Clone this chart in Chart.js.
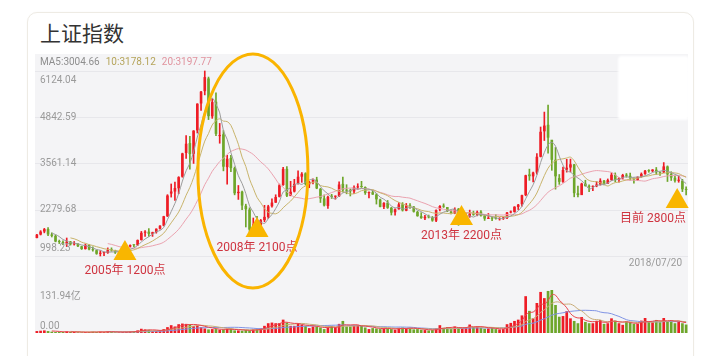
<!DOCTYPE html>
<html><head><meta charset="utf-8">
<script src="https://cdn.jsdelivr.net/npm/chart.js@4/dist/chart.umd.min.js"></script>
<style>
html,body{margin:0;padding:0;background:#fff;width:721px;height:356px;overflow:hidden;}
#card{position:absolute;left:27px;top:12px;width:665px;height:370px;border:1px solid #eeebe4;border-radius:10px;background:#fff;box-shadow:0 0 2px rgba(0,0,0,0.03);}
#title{position:absolute;left:40px;top:22px;font-size:21px;line-height:21px;font-family:'Noto Sans CJK SC',sans-serif;color:#333;white-space:nowrap;}
#cv{position:absolute;left:0;top:0;}
#blot{position:absolute;left:618px;top:56px;width:71px;height:64px;background:#fff;border-radius:4px;filter:blur(1.2px);}
</style></head>
<body>
<div id="card"></div>
<div id="title">上证指数</div>
<canvas id="cv" width="721" height="356"></canvas>
<div id="blot"></div>
<script>
// ---- DATA (monthly, 2004/01 .. 2018/07) ----
const opens = [
1497,1591,1676,1744,1594,1556,1398,1386,1342,1398,1320,1341,
1267,1191,1306,1181,1158,1060,1081,1083,1162,1155,1092,1099,
1163,1259,1300,1298,1441,1642,1673,1611,1657,1752,1838,2100,
2728,2784,2874,3196,3853,4126,3829,4479,5224,5566,5917,4868,
5273,4320,4371,3461,3713,3434,2741,2780,2390,2286,1720,1868,
1849,1992,2080,2376,2477,2638,2965,3413,2657,2783,3002,3196,
3289,2985,3055,3115,2858,2594,2385,2644,2640,2652,2997,2812,
2825,2787,2899,2935,2910,2741,2764,2703,2563,2359,2476,2336,
2212,2293,2431,2253,2398,2368,2221,2102,2043,2101,2072,1978,
2289,2385,2354,2230,2178,2307,1975,1994,2093,2184,2139,2226,
2112,2027,2052,2030,2018,2037,2049,2204,2219,2357,2433,2684,
3259,3205,3310,3747,4453,4634,4220,3665,3157,3052,3392,3448,
3536,2736,2685,3004,2937,2914,2932,2977,3085,3002,3105,3247,
3105,3157,3237,3221,3154,3105,3193,3271,3361,3350,3390,3310,
3314,3479,3269,3166,3083,3084,2831];
const highs = [
1600,1701,1764,1783,1640,1580,1440,1420,1497,1405,1400,1345,
1270,1329,1313,1250,1166,1146,1108,1223,1224,1160,1113,1163,
1260,1307,1306,1445,1680,1700,1757,1660,1753,1839,2100,2698,
2994,3049,3197,3848,4335,4311,4474,5219,5562,6124.04,5956,5354,
5522,4672,4472,3786,3786,3465,2952,2800,2434,2334,2051,2100,
2012,2402,2404,2579,2695,2991,3454,3478,3068,3123,3361,3311,
3306,3068,3136,3181,2872,2690,2657,2707,2667,3054,3186,2974,
2855,2942,3000,3067,2915,2777,2826,2729,2576,2476,2536,2344,
2302,2478,2478,2454,2453,2370,2241,2198,2127,2133,2094,2276,
2398,2444,2343,2265,2334,2317,2092,2178,2270,2242,2246,2260,
2138,2177,2079,2146,2061,2075,2206,2248,2366,2430,2683,3239,
3406,3323,3835,4572,4986,5178,4184,4006,3256,3459,3678,3684,
3539,2933,3018,3097,2968,2942,3059,3140,3096,3133,3301,3301,
3174,3264,3284,3295,3164,3193,3301,3375,3391,3394,3451,3317,
3587,3495,3333,3220,3219,3123,2915];
const lows = [
1496,1580,1640,1560,1525,1390,1343,1311,1259,1300,1300,1259,
1178,1187,1165,1135,1044,998.23,1004,1070,1130,1067,1074,1090,
1160,1245,1258,1290,1436,1540,1541,1541,1630,1745,1831,2090,
2630,2541,2723,3180,3705,3404,3563,4406,5032,5462,4778,4812,
4330,4123,3357,2990,3333,2693,2566,2284,1802,1664,1678,1814,
1845,1945,2038,2353,2481,2632,2953,2639,2712,2770,2990,3039,
2963,2890,2992,2861,2481,2382,2319,2592,2573,2648,2774,2721,
2661,2723,2849,2897,2705,2610,2701,2437,2356,2307,2316,2134,
2132,2294,2242,2249,2318,2213,2098,2040,2003,2051,1959,1949,
2245,2342,2225,2161,2168,1849,1951,1986,2069,2125,2111,2101,
1984,2032,1974,2017,1991,2010,2033,2191,2211,2285,2380,2666,
3095,3050,3263,3742,4198,3847,3373,2850,2983,3039,3322,3327,
2638,2638,2734,2931,2781,2807,2916,2962,2969,3008,3093,3056,
3044,3127,3181,3097,3017,3091,3180,3260,3318,3332,3259,3234,
3307,3062,3091,3041,3041,2782,2691];
const closes = [
1590,1675,1742,1596,1556,1399,1386,1342,1397,1321,1341,1267,
1192,1306,1181,1159,1060,1081,1083,1162,1156,1093,1099,1161,
1258,1299,1298,1440,1641,1672,1612,1658,1753,1837,2099,2675,
2786,2881,3183,3841,4109,3821,4471,5218,5552,5955,4872,5262,
4383,4349,3473,3693,3433,2736,2776,2397,2294,1729,1871,1821,
1991,2083,2373,2478,2633,2959,3412,2668,2779,2996,3195,3277,
2989,3051,3109,2871,2592,2398,2638,2639,2656,2979,2820,2808,
2791,2905,2928,2911,2743,2762,2701,2568,2359,2469,2333,2199,
2292,2429,2263,2397,2373,2225,2103,2048,2086,2069,1980,2269,
2385,2366,2237,2178,2301,1979,1994,2098,2175,2141,2220,2116,
2033,2056,2033,2026,2039,2048,2202,2217,2364,2420,2683,3235,
3210,3310,3748,4441,4612,4277,3664,3206,3053,3383,3445,3539,
2738,2688,3004,2938,2917,2930,2979,3085,3005,3100,3250,3104,
3159,3242,3223,3155,3117,3192,3273,3361,3349,3393,3317,3307,
3481,3259,3169,3082,3095,2847,2829];
// volume, 亿
const volumes = [
6,7,8,6,4,3,3,3,5,3,3,2,
2,3,3,4,3,4,3,5,4,2,2,3,
4,5,5,8,13,11,10,6,6,7,12,18,
24,20,27,29,28,26,21,24,18,14,11,12,
12,10,11,13,12,8,8,7,9,8,11,12,
14,22,30,32,30,30,41,32,22,22,30,25,
22,15,20,20,17,12,17,22,18,28,37,20,
20,22,25,22,17,12,15,14,12,14,14,12,
10,16,17,15,16,11,12,10,9,8,9,15,
24,16,18,12,20,17,15,18,26,18,20,16,
13,14,15,12,11,12,27,31,37,41,54,113,
68,45,92,126,107,129,131.94,86,50,52,67,45,
37,30,49,34,30,30,37,40,28,30,45,38,
30,25,35,33,28,28,38,46,35,33,40,33,
46,35,38,30,35,30,26];
const priceTicks = [6124.04, 4842.59, 3561.14, 2279.68, 998.23];
const priceTickLabels = ['6124.04','4842.59','3561.14','2279.68','998.23'];
const volTicks = [131.94, 0];
const volTickLabels = ['131.94亿', '0.00'];
const legendTexts = ['MA5:3004.66', '10:3178.12', '20:3197.77'];
const dateLabel = '2018/07/20';
const markerIdx = [23.6, 59, 113.8, 171.6];
const markerVal = [887, 1525, 1857, 2328];
const markerText = ['2005年 1200点', '2008年 2100点', '2013年 2200点', '目前 2800点'];
const circleIdx = 57.9, circleVal = 3353;

// categories
const months = [];
for (let y = 2004; y <= 2018; y++) for (let m = 1; m <= 12; m++) {
  if (y === 2018 && m > 7) break;
  months.push(y + '/' + String(m).padStart(2, '0'));
}

// ---- styling ----
const RED = '#ee1c25', GREEN = '#6ea62a';
const MA_COL = ['#9c9c9c', '#c9b46c', '#eba3b0'];
const VMA_COL = ['#e8464c', '#c8ad78', '#8094e4'];
const LEG_COL = ['#8e8e8e', '#b5a45a', '#e0939e'];
const PLOT = {left: 35, top: 54, right: 688, bottom: 333};
const PRICE_TOP_PX = 71, PRICE_BOT_PX = 256, VOL_TOP_PX = 290;

function ma(arr, n) {
  return arr.map((v, i) => i < n - 1 ? null : arr.slice(i - n + 1, i + 1).reduce((a, b) => a + b, 0) / n);
}
const up = closes.map((c, i) => c >= opens[i]);
const colorOf = ctx => up[ctx.dataIndex] ? RED : GREEN;

// scale ranges so that ticks land on the reference gridlines
const H = PLOT.bottom - PLOT.top;
const pMax = priceTicks[0], pMin = priceTicks[priceTicks.length - 1];
const perPx = (pMax - pMin) / (PRICE_BOT_PX - PRICE_TOP_PX);
const yMax = pMax + (PRICE_TOP_PX - PLOT.top) * perPx;
const yMin = pMin - (PLOT.bottom - PRICE_BOT_PX) * perPx;
const vMax = volTicks[0] * H / (PLOT.bottom - VOL_TOP_PX);

const FONT = "Roboto, 'Noto Sans CJK SC', sans-serif";

const deco = {
  id: 'deco',
  beforeDatasetsDraw(chart) {
    const {ctx, chartArea: a, scales: {y}} = chart;
    ctx.save();
    ctx.fillStyle = '#f4f4f6';
    ctx.fillRect(a.left, a.top, a.width, a.height);
    ctx.strokeStyle = '#e7e7eb';
    ctx.lineWidth = 1;
    priceTicks.forEach(v => {
      const py = Math.round(y.getPixelForValue(v)) + 0.5;
      ctx.beginPath(); ctx.moveTo(a.left, py); ctx.lineTo(a.right, py); ctx.stroke();
    });
    ctx.restore();
  },
  afterDatasetsDraw(chart) {
    const {ctx, chartArea: a, scales: {x, y, yv}} = chart;
    ctx.save();
    // legend
    ctx.font = '10px ' + FONT;
    ctx.textBaseline = 'middle';
    ctx.textAlign = 'left';
    let lx = a.left + 5;
    legendTexts.forEach((t, i) => {
      ctx.fillStyle = LEG_COL[i];
      ctx.fillText(t, lx, a.top + 8);
      lx += ctx.measureText(t).width + 6;
    });
    // price tick labels
    ctx.fillStyle = '#9a9a9a';
    priceTicks.forEach((v, i) => {
      const py = y.getPixelForValue(v);
      if (i === 0) { ctx.textBaseline = 'top'; ctx.fillText(priceTickLabels[i], a.left + 5, py + 4); }
      else if (i === priceTicks.length - 1) { ctx.textBaseline = 'bottom'; ctx.fillText(priceTickLabels[i], a.left + 5, py - 3); }
      else { ctx.textBaseline = 'middle'; ctx.fillText(priceTickLabels[i], a.left + 5, py); }
    });
    // volume tick labels
    ctx.textBaseline = 'top';
    ctx.fillText(volTickLabels[0], a.left + 5, yv.getPixelForValue(volTicks[0]) + 1);
    ctx.textBaseline = 'bottom';
    ctx.fillText(volTickLabels[1], a.left + 5, yv.getPixelForValue(volTicks[1]) - 2);
    // date
    ctx.textAlign = 'right';
    ctx.textBaseline = 'top';
    ctx.fillText(dateLabel, a.right - 6, y.getPixelForValue(pMin) + 2);
    // markers
    ctx.font = '12px ' + FONT;
    markerIdx.forEach((idx, i) => {
      const cx = x.getPixelForValue(idx), by = y.getPixelForValue(markerVal[i]);
      ctx.fillStyle = '#f9b600';
      ctx.beginPath();
      ctx.moveTo(cx, by - 20); ctx.lineTo(cx + 11.5, by); ctx.lineTo(cx - 11.5, by); ctx.closePath();
      ctx.fill();
      ctx.fillStyle = '#cf3440';
      const w = ctx.measureText(markerText[i]).width;
      let tx = cx - w / 2;
      if (tx + w > a.right - 2) tx = a.right - 2 - w;
      ctx.textAlign = 'left'; ctx.textBaseline = 'middle';
      ctx.fillText(markerText[i], tx, by + 11);
    });
    // ellipse
    ctx.strokeStyle = '#fab400';
    ctx.lineWidth = 3;
    ctx.beginPath();
    ctx.ellipse(x.getPixelForValue(circleIdx), y.getPixelForValue(circleVal), 55, 117, 0, 0, Math.PI * 2);
    ctx.stroke();
    ctx.restore();
  }
};

const lineDs = (label, data, axis, color, order) => ({
  type: 'line', label, data, yAxisID: axis, borderColor: color, borderWidth: 1,
  pointRadius: 0, tension: 0.35, fill: false, order
});

new Chart(document.getElementById('cv'), {
  type: 'bar',
  data: {
    labels: months,
    datasets: [
      lineDs('MA5', ma(closes, 5), 'y', MA_COL[0], 0),
      lineDs('MA10', ma(closes, 10), 'y', MA_COL[1], 0),
      lineDs('MA20', ma(closes, 20), 'y', MA_COL[2], 0),
      {label: 'body', data: opens.map((o, i) => [o, closes[i]]), yAxisID: 'y',
       backgroundColor: colorOf, barPercentage: 0.7, categoryPercentage: 1, grouped: false, minBarLength: 1, order: 1},
      {label: 'wick', data: lows.map((l, i) => [l, highs[i]]), yAxisID: 'y',
       backgroundColor: colorOf, barThickness: 1, grouped: false, order: 2},
      lineDs('VMA5', ma(volumes, 5), 'yv', VMA_COL[0], 3),
      lineDs('VMA10', ma(volumes, 10), 'yv', VMA_COL[1], 3),
      lineDs('VMA20', ma(volumes, 20), 'yv', VMA_COL[2], 3),
      {label: 'vol', data: volumes, yAxisID: 'yv',
       backgroundColor: colorOf, barPercentage: 0.72, categoryPercentage: 1, grouped: false, order: 4}
    ]
  },
  options: {
    responsive: false, animation: false, devicePixelRatio: 1,
    layout: {padding: {left: PLOT.left, top: PLOT.top, right: 721 - PLOT.right, bottom: 356 - PLOT.bottom}},
    plugins: {legend: {display: false}, tooltip: {enabled: false}},
    scales: {
      x: {type: 'category', offset: true, display: false},
      y: {type: 'linear', min: yMin, max: yMax, display: false},
      yv: {type: 'linear', min: 0, max: vMax, display: false}
    }
  },
  plugins: [deco]
});
</script>
</body></html>
